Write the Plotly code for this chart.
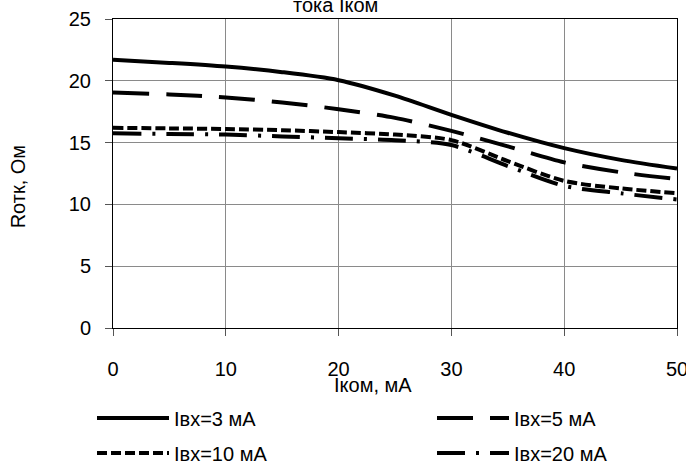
import plotly.graph_objects as go

x_vals = [0, 5, 10, 15, 20, 25, 30, 35, 40, 45, 50]
r_3mA = [21.7, 21.45, 21.15, 20.7, 20.05, 18.8, 17.25, 15.8, 14.55, 13.6, 12.9]
r_5mA = [19.05, 18.9, 18.65, 18.25, 17.7, 17.0, 15.95, 14.7, 13.4, 12.6, 12.05]
r_10mA = [16.2, 16.15, 16.1, 16.0, 15.85, 15.65, 15.2, 13.5, 11.9, 11.3, 10.9]
r_20mA = [15.75, 15.7, 15.65, 15.5, 15.35, 15.2, 14.8, 13.1, 11.5, 10.9, 10.4]
names = ["Iвх=3 мА", "Iвх=5 мА", "Iвх=10 мА", "Iвх=20 мА"]
x_ticks = [0, 10, 20, 30, 40, 50]
y_ticks = [0, 5, 10, 15, 20, 25]

FONT = "Liberation Sans, Arial, sans-serif"
FS = 20
W, H = 686, 468
dashes = ["solid", "36px,17px", "10px,4px", "28px,11px,3px,11px"]
series = [r_3mA, r_5mA, r_10mA, r_20mA]
legend_ids = ["legend", "legend2", "legend3", "legend4"]

fig = go.Figure()
for name, ys, d, lg in zip(names, series, dashes, legend_ids):
    fig.add_trace(go.Scatter(
        x=x_vals, y=ys, mode="lines", name=name,
        line=dict(color="black", width=4, dash=d, shape="spline", smoothing=0.8),
        legend=lg, hoverinfo="skip",
    ))

axis_common = dict(
    showgrid=True, gridcolor="#8a8a8a", gridwidth=1,
    showline=True, linecolor="black", linewidth=1, mirror=True,
    ticks="outside", ticklen=7, tickcolor="#555555",
    tickfont=dict(family=FONT, size=FS, color="black"),
    zeroline=False, automargin=False, ticklabeloverflow="allow",
)
fig.update_xaxes(range=[0, 50], tickvals=x_ticks, ticklabelstandoff=16, **axis_common)
fig.update_yaxes(range=[0, 25], tickvals=y_ticks, ticklabelstandoff=10, **axis_common)

def leg(px, py):
    return dict(
        xref="container", yref="container", x=px / W, y=1 - py / H,
        xanchor="left", yanchor="middle", orientation="h",
        font=dict(family=FONT, size=FS, color="black"),
        itemwidth=72, bgcolor="rgba(0,0,0,0)",
    )

fig.update_layout(
    width=W, height=H,
    margin=dict(l=113, r=9, t=19, b=140, autoexpand=False),
    paper_bgcolor="white", plot_bgcolor="white",
    font=dict(family=FONT, size=FS, color="black"),
    showlegend=True,
    legend=leg(92, 418),
    legend2=leg(432, 418),
    legend3=leg(92, 453),
    legend4=leg(432, 453),
    annotations=[
        dict(text="тока Iком", xref="paper", yref="paper", x=0.394, y=1.003,
             showarrow=False, xanchor="center", yanchor="bottom",
             font=dict(family=FONT, size=FS, color="black")),
        dict(text="Iком, мА", xref="paper", yref="paper", x=0.461, y=-0.185,
             showarrow=False, xanchor="center", yanchor="middle",
             font=dict(family=FONT, size=FS, color="black")),
        dict(text="Rотк, Ом", xref="paper", yref="paper", x=-0.168, y=0.456,
             showarrow=False, xanchor="center", yanchor="middle", textangle=-90,
             font=dict(family=FONT, size=FS, color="black")),
    ],
)

fig.write_html("out.html", config={"displayModeBar": False},
               post_script="document.body.style.margin='0px';")
